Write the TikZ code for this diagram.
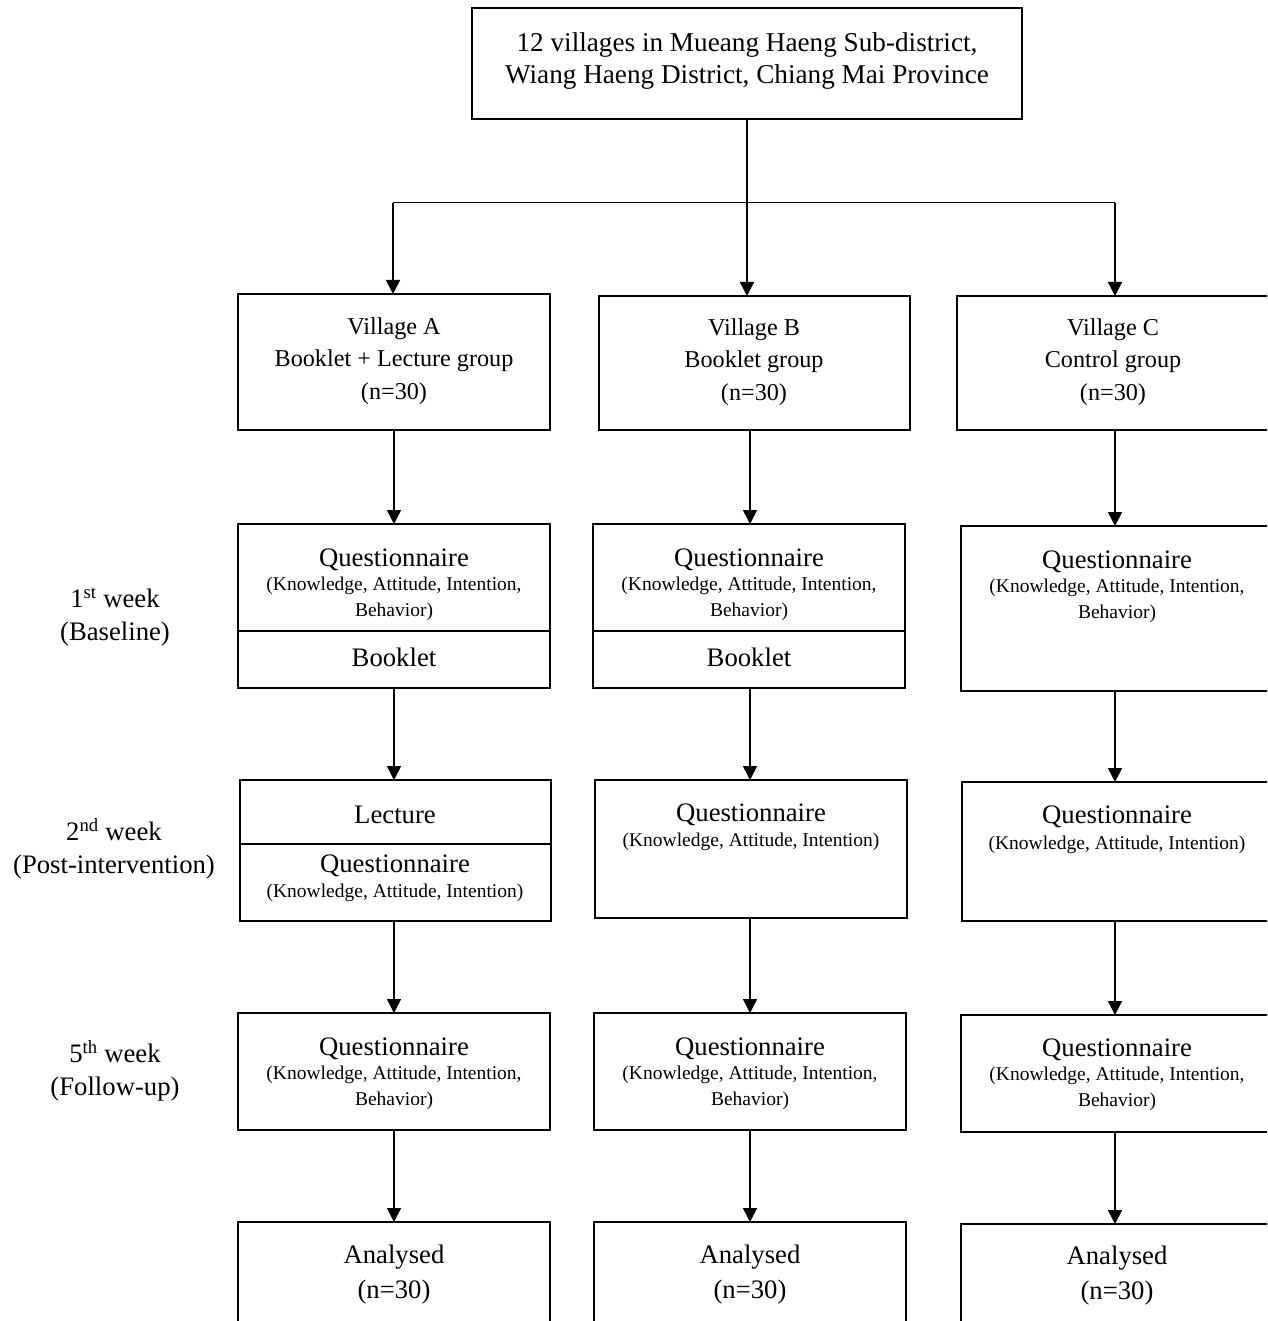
\documentclass[tikz,border=0pt]{standalone}
\usepackage{fontspec}
\setmainfont{Liberation Serif}
\usetikzlibrary{arrows.meta}
\newcommand\mybox[5]{\node[box,minimum width={#4-#2},minimum height={#5-#3}] (#1) at ({(#2+#4)/2},{(#3+#5)/2}) {};}
\begin{document}
\begin{tikzpicture}[x=1pt,y=-1pt,
 box/.style={draw,line width=1.5pt,inner sep=0pt,outer sep=0pt},
 arr/.style={line width=1.5pt,-{Triangle[length=14pt,width=14pt]}},
 big/.style={font=\fontsize{26.7}{32}\selectfont,align=center,inner sep=0pt},
 mid/.style={font=\fontsize{24.2}{32.5}\selectfont,align=center,inner sep=0pt},
 sml/.style={font=\fontsize{19.5}{26}\selectfont,align=center,inner sep=0pt}]
\useasboundingbox (0,0) rectangle (1267,1321);
\clip (0,0) rectangle (1267,1321);
% boxes
\mybox{top}{472}{8}{1022}{119}
\mybox{vA}{238}{294}{550}{430}
\mybox{vB}{599}{296}{910}{430}
\mybox{vC}{957}{296}{1275}{430}
\mybox{qA1}{238}{524}{550}{688}
\mybox{qB1}{593}{524}{905}{688}
\mybox{qC1}{961}{526}{1275}{691}
\mybox{lA}{240}{780}{551}{921}
\mybox{qB2}{595}{780}{907}{918}
\mybox{qC2}{962}{782}{1275}{921}
\mybox{qA3}{238}{1013}{550}{1130}
\mybox{qB3}{594}{1013}{906}{1130}
\mybox{qC3}{961}{1015}{1275}{1132}
\mybox{aA}{238}{1222}{550}{1335}
\mybox{aB}{594}{1222}{906}{1335}
\mybox{aC}{961}{1224}{1275}{1335}
% dividers
\draw[line width=1.5pt] (qA1.west |- 0,631) -- (qA1.east |- 0,631);
\draw[line width=1.5pt] (qB1.west |- 0,631) -- (qB1.east |- 0,631);
\draw[line width=1.5pt] (lA.west |- 0,844) -- (lA.east |- 0,844);
% texts
\node[big,font=\fontsize{27.2}{32}\selectfont] (ttop) at (747,61) {12 villages in Mueang Haeng Sub-district,\\Wiang Haeng District, Chiang Mai Province};
\node[mid] (tvA) at (394,361) {Village A\\Booklet + Lecture group\\(n=30)};
\node[mid] (tvB) at (754,362) {Village B\\Booklet group\\(n=30)};
\node[mid] (tvC) at (1113,362) {Village C\\Control group\\(n=30)};
% row 2
\node[big] (tqA1) at (394,560) {Questionnaire};
\node[sml] (sqA1) at (394,599) {(Knowledge, Attitude, Intention,\\Behavior)};
\node[big] (tbA) at (394,657) {Booklet};
\node[big] (tqB1) at (749,560) {Questionnaire};
\node[sml] (sqB1) at (749,599) {(Knowledge, Attitude, Intention,\\Behavior)};
\node[big] (tbB) at (749,657) {Booklet};
\node[big] (tqC1) at (1117,562) {Questionnaire};
\node[sml] (sqC1) at (1117,601) {(Knowledge, Attitude, Intention,\\Behavior)};
% row 3
\node[big] (tlA) at (395,815) {Lecture};
\node[big] (tqA2) at (395,866) {Questionnaire};
\node[sml] (sqA2) at (395,893) {(Knowledge, Attitude, Intention)};
\node[big] (tqB2) at (751,815) {Questionnaire};
\node[sml] (sqB2) at (751,842) {(Knowledge, Attitude, Intention)};
\node[big] (tqC2) at (1117,817) {Questionnaire};
\node[sml] (sqC2) at (1117,845) {(Knowledge, Attitude, Intention)};
% row 4
\node[big] (tqA3) at (394,1049) {Questionnaire};
\node[sml] (sqA3) at (394,1088) {(Knowledge, Attitude, Intention,\\Behavior)};
\node[big] (tqB3) at (750,1049) {Questionnaire};
\node[sml] (sqB3) at (750,1088) {(Knowledge, Attitude, Intention,\\Behavior)};
\node[big] (tqC3) at (1117,1050) {Questionnaire};
\node[sml] (sqC3) at (1117,1089) {(Knowledge, Attitude, Intention,\\Behavior)};
% row 5
\node[big,font=\fontsize{26.7}{35}\selectfont] (taA) at (394,1275) {Analysed\\(n=30)};
\node[big,font=\fontsize{26.7}{35}\selectfont] (taB) at (750,1275) {Analysed\\(n=30)};
\node[big,font=\fontsize{26.7}{35}\selectfont] (taC) at (1117,1276) {Analysed\\(n=30)};
% left labels
\node[big,font=\fontsize{26.7}{33}\selectfont] (w1) at (115,617) {1\textsuperscript{st} week\\(Baseline)};
\node[big,font=\fontsize{26.7}{33}\selectfont] (w2) at (114,849) {2\textsuperscript{nd} week\\(Post-intervention)};
\node[big,font=\fontsize{26.7}{33}\selectfont] (w5) at (115,1071) {5\textsuperscript{th} week\\(Follow-up)};
% connectors
\coordinate (jA) at (393,203);
\coordinate (jB) at (747,203);
\coordinate (jC) at (1115,203);
\coordinate (cA) at (394,0);
\coordinate (cB) at (750,0);
\coordinate (cC) at (1115,0);
\draw[line width=1.5pt] (top.south) -- (jB);
\draw[line width=1pt] (jA) -- (jC);
\draw[arr] (jA) -- (jA |- vA.north);
\draw[arr] (jB) -- (jB |- vB.north);
\draw[arr] (jC) -- (jC |- vC.north);
\draw[arr] (vA.south -| cA) -- (qA1.north -| cA);
\draw[arr] (qA1.south -| cA) -- (lA.north -| cA);
\draw[arr] (lA.south -| cA) -- (qA3.north -| cA);
\draw[arr] (qA3.south -| cA) -- (aA.north -| cA);
\draw[arr] (vB.south -| cB) -- (qB1.north -| cB);
\draw[arr] (qB1.south -| cB) -- (qB2.north -| cB);
\draw[arr] (qB2.south -| cB) -- (qB3.north -| cB);
\draw[arr] (qB3.south -| cB) -- (aB.north -| cB);
\draw[arr] (vC.south -| cC) -- (qC1.north -| cC);
\draw[arr] (qC1.south -| cC) -- (qC2.north -| cC);
\draw[arr] (qC2.south -| cC) -- (qC3.north -| cC);
\draw[arr] (qC3.south -| cC) -- (aC.north -| cC);
\end{tikzpicture}
\end{document}
